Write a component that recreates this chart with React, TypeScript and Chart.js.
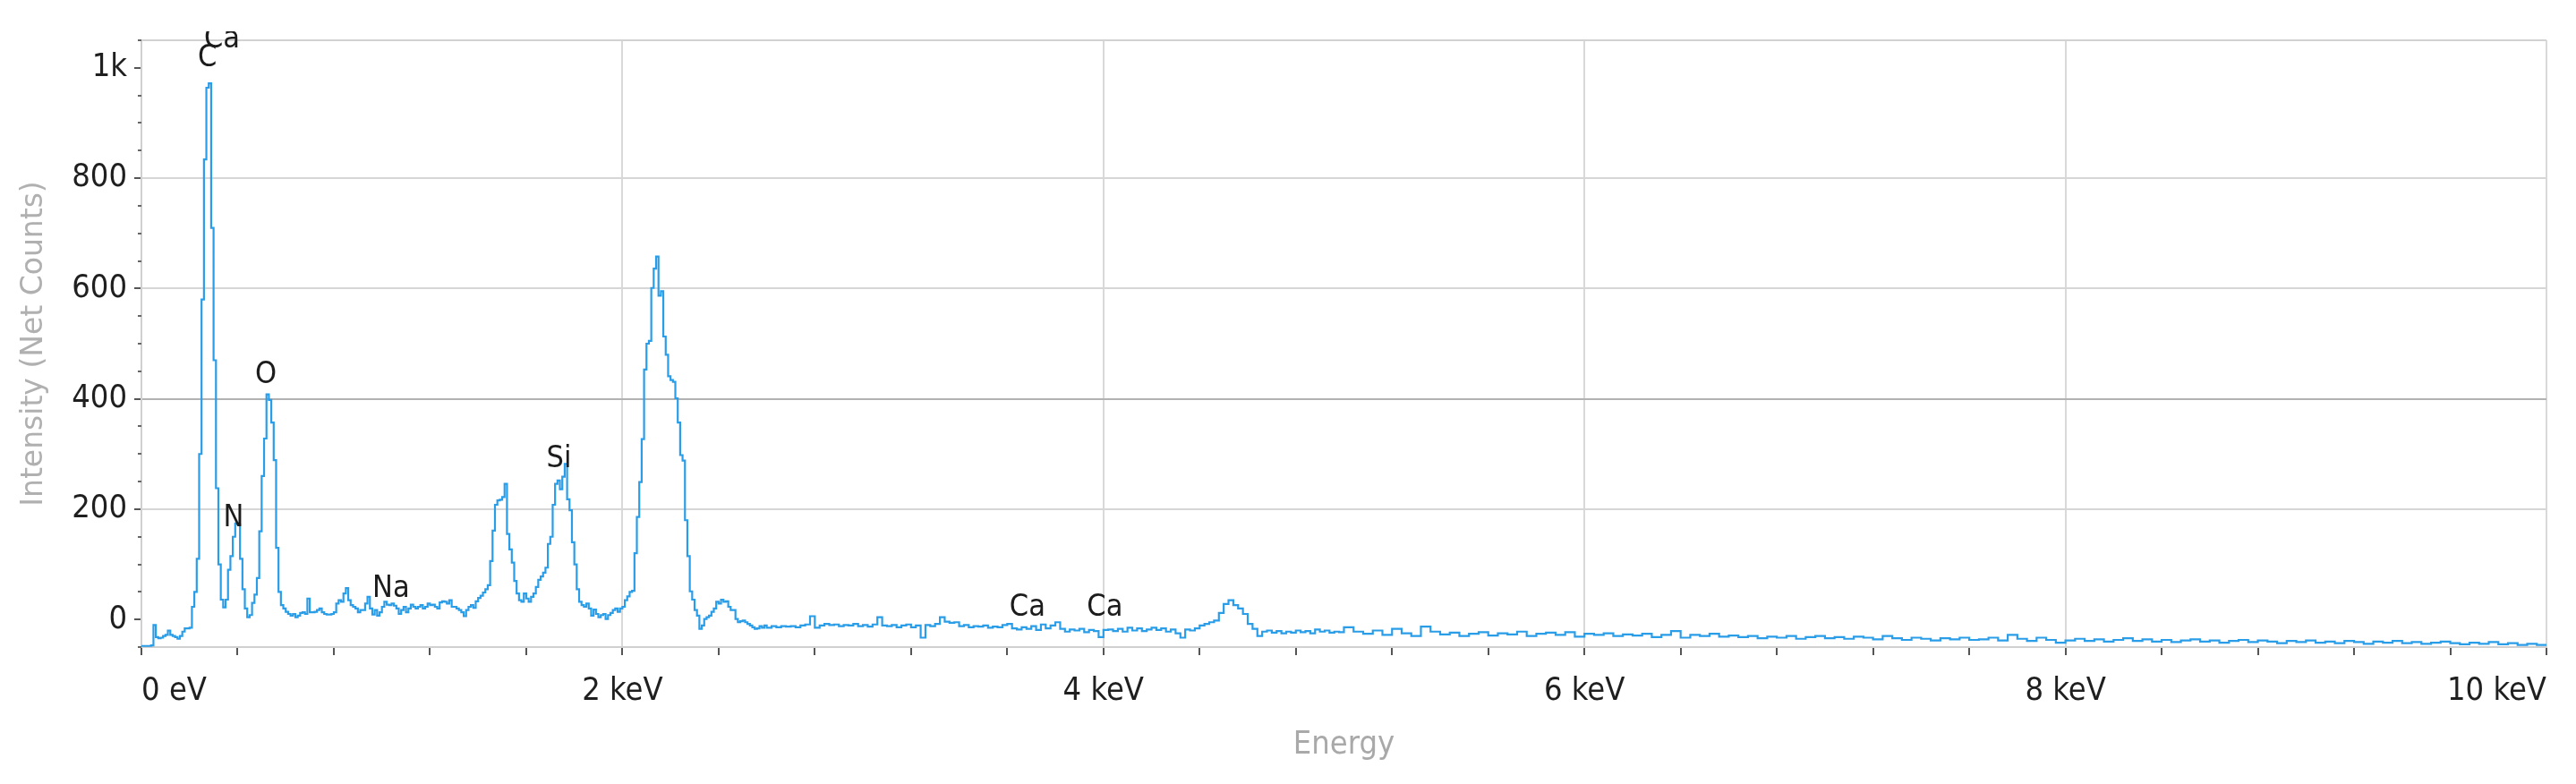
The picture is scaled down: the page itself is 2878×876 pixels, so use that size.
import React, { useEffect, useRef } from 'react';
import { Chart, registerables } from 'chart.js';

Chart.register(...registerables);

// ---- Spectrum data (net counts per channel) ----
// 0.00 – 2.59 keV, 10 eV channels
const FINE_START_KEV = 0;
const FINE_STEP_KEV = 0.01;
const countsFine = [
  -48, -48, -48, -48, -47, -10, -32, -34, -33, -30,
  -28, -20, -28, -30, -32, -35, -30, -22, -16, -16,
  -15, 23, 50, 110, 300, 580, 834, 964, 972, 710,
  470, 238, 100, 36, 22, 36, 90, 115, 150, 174,
  172, 110, 55, 20, 4, 8, 30, 45, 75, 160,
  260, 328, 408, 398, 357, 289, 130, 50, 26, 20,
  14, 10, 7, 10, 4, 7, 12, 13, 10, 38,
  13, 13, 14, 17, 20, 13, 10, 9, 9, 10,
  13, 29, 35, 32, 47, 57, 35, 26, 23, 20,
  13, 17, 17, 29, 41, 20, 9, 17, 7, 13,
  23, 32, 27, 26, 29, 25, 20, 10, 17, 23,
  13, 20, 27, 23, 20, 23, 26, 20, 23, 29,
  26, 27, 23, 20, 31, 33, 32, 29, 35, 23,
  23, 20, 17, 13, 6, 17, 23, 26, 21, 33,
  39, 43, 49, 55, 62, 106, 161, 208, 216, 217,
  222, 246, 155, 127, 103, 70, 47, 35, 32, 47,
  38, 32, 41, 47, 59, 72, 78, 85, 94, 137,
  150, 208, 246, 252, 236, 259, 282, 218, 198, 140,
  100, 55, 32, 26, 23, 29, 20, 7, 18, 10,
  4, 8, 10, 1, 8, 12, 17, 20, 14, 20,
  23, 35, 42, 50, 52, 120, 186, 249, 327, 453,
  500, 505, 601, 636, 658, 587, 595, 513, 480, 441,
  434, 431, 401, 357, 298, 288, 180, 115, 51, 36,
  17, 7, -17, -11, 1, 4, 7, 14, 20, 32,
  29, 36, 32, 33, 23, 17, 17, 1, -5, -3,
  -2, -5, -8, -11, -14, -17, -16, -12, -15, -11,
];

// 2.60 – 4.98 keV, 20 eV channels
const MID_START_KEV = 2.6;
const MID_STEP_KEV = 0.02;
const countsMid = [
  -15, -12, -14, -12, -13, -12, -14, -11, -9, 6,
  -15, -11, -8, -10, -9, -12, -10, -11, -8, -12,
  -10, -13, -9, 4, -11, -12, -10, -14, -11, -9,
  -14, -11, -33, -10, -12, -8, 4, -4, -6, -5,
  -12, -10, -14, -12, -13, -11, -15, -13, -14, -10,
  -8, -16, -18, -14, -17, -12, -19, -9, -16, -11,
  -5, -17, -22, -18, -20, -17, -23, -19, -21, -32,
  -19, -18, -21, -17, -22, -15, -20, -16, -21, -18,
  -15, -19, -16, -22, -18, -25, -33, -18, -20, -16,
  -11, -8, -5, -2, 12, 28, 35, 26, 20, 10,
  -8, -17, -30, -22, -20, -24, -21, -25, -22, -24,
  -20, -23, -21, -25, -18, -22, -20, -24, -22, -23,
];

// 5.00 – 10.20 keV, 40 eV channels
const COARSE_START_KEV = 5.0;
const COARSE_STEP_KEV = 0.04;
const countsCoarse = [
  -14, -22, -26, -20, -28, -17, -25, -30, -13, -22,
  -27, -24, -30, -26, -23, -29, -25, -27, -22, -30,
  -26, -24, -28, -23, -31, -26, -28, -25, -30, -27,
  -29, -26, -32, -28, -21, -33, -28, -30, -26, -31,
  -29, -32, -30, -34, -31, -33, -30, -35, -32, -30,
  -34, -32, -35, -31, -33, -36, -30, -34, -37, -33,
  -35, -38, -34, -36, -33, -37, -36, -33, -38, -28,
  -35, -39, -33, -37, -42, -38, -35, -39, -36, -40,
  -37, -34, -39, -36, -40, -37, -41, -38, -36, -40,
  -38, -42, -39, -37, -41, -38, -40, -43, -39, -41,
  -38, -42, -40, -43, -39, -41, -44, -40, -42, -39,
  -43, -41, -44, -42, -40, -43, -45, -42, -44, -41,
  -45, -43, -46, -44, -46, -45, -46, -45, -46, -46,
  -46,
];

// ---- Axis ticks ----
const X_MIN = 0;
const X_MAX = 10;
const xTickValues = Array.from({ length: 26 }, (_, i) => Math.round(i * 4) / 10); // every 0.4 keV
const xLabelValues = [0, 2, 4, 6, 8, 10];
const Y_MIN = -50;
const Y_MAX = 1050;
const yTickValues = [0, 200, 400, 600, 800, 1000];
const yGridValues = [200, 400, 600, 800];
const yMinorTickValues = [
  -50, 50, 100, 150, 250, 300, 350, 450, 500, 550, 650, 700, 750, 850, 900, 950, 1050,
];

// ---- Element labels (energy in keV, anchor in counts) ----
const peakLabelText = ['C', 'Ca', 'N', 'O', 'Na', 'Si', 'Ca', 'Ca'];
const peakLabelKeV = [0.274, 0.335, 0.383, 0.517, 1.038, 1.736, 3.684, 4.006];
const peakLabelCounts = [1003, 1037, 169, 428, 41, 276, 7, 7];

const NARROW = '"Liberation Sans Narrow", "DejaVu Sans Condensed", "Roboto Condensed", sans-serif';

function channelPoints(start: number, step: number, counts: number[]) {
  return counts.map((c, i) => ({ x: +(start + i * step).toFixed(3), y: c }));
}

const isMultiple = (v: number, m: number) => Math.abs(v / m - Math.round(v / m)) < 1e-6;

export default function App() {
  const canvasRef = useRef<HTMLCanvasElement | null>(null);

  useEffect(() => {
    if (!canvasRef.current) return;
    const points = [
      ...channelPoints(FINE_START_KEV, FINE_STEP_KEV, countsFine),
      ...channelPoints(MID_START_KEV, MID_STEP_KEV, countsMid),
      ...channelPoints(COARSE_START_KEV, COARSE_STEP_KEV, countsCoarse),
    ];
    const lastEnd = COARSE_START_KEV + countsCoarse.length * COARSE_STEP_KEV;
    points.push({ x: +lastEnd.toFixed(3), y: countsCoarse[countsCoarse.length - 1] });

    const decorPlugin = {
      id: 'decor',
      afterDraw(chart: any) {
        const { ctx, chartArea, scales } = chart;
        const xs = scales.x;
        const ys = scales.y;
        ctx.save();
        // top frame line
        ctx.strokeStyle = '#d2d2d2';
        ctx.lineWidth = 2;
        ctx.beginPath();
        ctx.moveTo(chartArea.left, chartArea.top);
        ctx.lineTo(chartArea.right, chartArea.top);
        ctx.stroke();
        // minor y ticks
        ctx.strokeStyle = '#666666';
        ctx.lineWidth = 2;
        for (const v of yMinorTickValues) {
          const py = Math.round(ys.getPixelForValue(v));
          ctx.beginPath();
          ctx.moveTo(chartArea.left - 4, py);
          ctx.lineTo(chartArea.left, py);
          ctx.stroke();
        }
        // element labels
        ctx.beginPath();
        ctx.rect(0, 27, chart.width, chart.height);
        ctx.clip();
        ctx.font = `34px ${NARROW}`;
        ctx.fillStyle = '#1c1c1c';
        ctx.textAlign = 'center';
        ctx.textBaseline = 'alphabetic';
        peakLabelText.forEach((t, i) => {
          ctx.fillText(t, xs.getPixelForValue(peakLabelKeV[i]), ys.getPixelForValue(peakLabelCounts[i]));
        });
        ctx.restore();
      },
    };

    const chart = new Chart(canvasRef.current, {
      type: 'line',
      data: {
        datasets: [
          {
            label: 'Spectrum',
            data: points,
            borderColor: '#2a9de8',
            borderWidth: 2.2,
            pointRadius: 0,
            stepped: true,
            fill: false,
          },
        ],
      },
      options: {
        animation: false,
        responsive: true,
        maintainAspectRatio: false,
        devicePixelRatio: 1,
        layout: { padding: { top: 37, right: 25, bottom: 0, left: 0 } },
        plugins: {
          legend: { display: false },
          tooltip: { enabled: false },
        },
        scales: {
          x: {
            type: 'linear',
            min: X_MIN,
            max: X_MAX,
            afterBuildTicks: (scale: any) => {
              scale.ticks = xTickValues.map((v) => ({ value: v }));
            },
            afterFit: (scale: any) => {
              scale.height = 145;
            },
            ticks: {
              autoSkip: false,
              maxRotation: 0,
              align: 'inner',
              padding: 19,
              color: '#1f1f1f',
              font: { family: NARROW, size: 36 },
              callback: (v: any) => {
                const n = Number(v);
                if (!xLabelValues.some((l) => Math.abs(l - n) < 1e-6)) return '';
                return n === 0 ? '0 eV' : `${Math.round(n)} keV`;
              },
            },
            grid: {
              drawOnChartArea: true,
              lineWidth: 2,
              tickLength: 9,
              tickWidth: 2,
              tickColor: '#555555',
              color: (ctx: any) => {
                const v = ctx.tick ? ctx.tick.value : 0;
                return v > 0 && isMultiple(v, 2) ? '#d9d9d9' : 'rgba(0,0,0,0)';
              },
            },
            border: { color: '#d0d0d0', width: 2 },
            title: {
              display: true,
              text: 'Energy',
              color: '#a9a9a9',
              font: { family: NARROW, size: 36 },
              padding: { top: 0, bottom: 14 },
            },
          },
          y: {
            type: 'linear',
            min: Y_MIN,
            max: Y_MAX,
            afterBuildTicks: (scale: any) => {
              scale.ticks = yTickValues.map((v) => ({ value: v }));
            },
            afterFit: (scale: any) => {
              scale.width = 150;
            },
            ticks: {
              padding: 8,
              color: '#1f1f1f',
              font: { family: NARROW, size: 36 },
              callback: (v: any) => (Number(v) === 1000 ? '1k' : String(v)),
            },
            grid: {
              lineWidth: 2,
              tickLength: 8,
              tickWidth: 2,
              tickColor: '#555555',
              color: (ctx: any) => {
                const v = ctx.tick ? ctx.tick.value : 0;
                if (!yGridValues.includes(v)) return 'rgba(0,0,0,0)';
                return v === 400 ? '#b2b2b2' : '#d6d6d6';
              },
            },
            border: { color: '#d0d0d0', width: 2 },
            title: {
              display: true,
              text: 'Intensity (Net Counts)',
              color: '#b0b0b0',
              font: { family: '"DejaVu Sans", sans-serif', size: 33 },
              padding: { top: 11, bottom: 0 },
            },
          },
        },
      },
      plugins: [decorPlugin],
    } as any);

    return () => chart.destroy();
  }, []);

  return (
    <div style={{ position: 'relative', width: 2862, height: 860 }}>
      <canvas ref={canvasRef} />
    </div>
  );
}
